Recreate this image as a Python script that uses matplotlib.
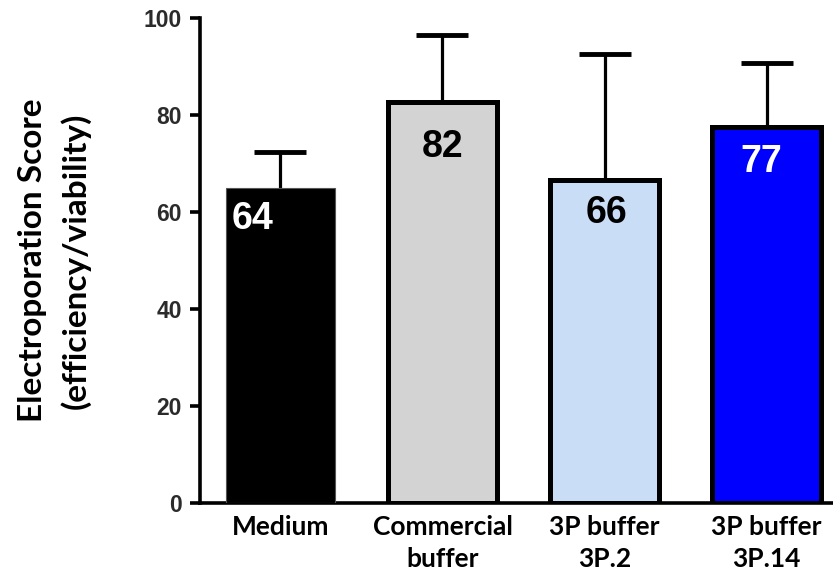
import matplotlib
matplotlib.use("Agg")
import matplotlib.pyplot as plt

categories = ["Medium", "Commercial\nbuffer", "3P buffer\n3P.2", "3P buffer\n3P.14"]
means = [64.9, 82.7, 66.6, 77.5]
errors = [7.5, 13.7, 26.0, 13.1]
value_labels = ["64", "82", "66", "77"]

fill_colors = ["#000000", "#d3d3d3", "#c9ddf6", "#0000ff"]
edge_colors = ["#555555", "#000000", "#000000", "#000000"]
edge_widths = [0.8, 3.6, 3.6, 3.6]
label_colors = ["white", "black", "black", "white"]
label_dx = [-0.17, 0.0, 0.01, -0.03]
label_dy = [6.3, 9.3, 6.8, 7.2]

narrow = ["Liberation Sans Narrow", "Arial Narrow", "Liberation Sans", "DejaVu Sans"]

fig = plt.figure(figsize=(8.33, 5.76), dpi=100)
ax = fig.add_axes([0.240, 0.127, 0.760, 0.842])

x = list(range(len(categories)))
for i in x:
    ax.bar(i, means[i], width=0.67, color=fill_colors[i], edgecolor=edge_colors[i],
           linewidth=edge_widths[i], zorder=3)
eb = ax.errorbar(x, means, yerr=[[0] * len(errors), errors], fmt="none", ecolor="black",
                 elinewidth=2.3, capsize=19, capthick=3.5, zorder=2)
for cl in eb[1]:
    yd = list(cl.get_ydata())
    if all(abs(a - b) < 1e-9 for a, b in zip(yd, means)):
        cl.set_visible(False)

for i in x:
    ax.text(i + label_dx[i], means[i] - label_dy[i], value_labels[i], ha="center", va="center",
            color=label_colors[i], fontsize=27, fontweight="bold",
            family=narrow, zorder=4)

ax.set_xlim(-0.497, 3.41)
ax.set_ylim(0, 100)
ax.set_yticks([0, 20, 40, 60, 80, 100])
ax.set_xticks(x)
ax.set_xticklabels(categories, fontsize=19, fontweight="bold", family=["Lato", "DejaVu Sans"],
                   linespacing=1.38)
for lab in ax.get_yticklabels():
    lab.set_family(narrow)
    lab.set_fontweight("bold")
    lab.set_fontsize(16.5)
    lab.set_color("#2b2b2b")

ax.spines["top"].set_visible(False)
ax.spines["right"].set_visible(False)
ax.spines["left"].set_linewidth(2.6)
ax.spines["bottom"].set_linewidth(2.6)
ax.tick_params(axis="y", length=7, width=2.6, pad=6)
ax.tick_params(axis="x", length=0, pad=9)

ax.set_ylabel("Electroporation Score\n(efficiency/viability)", fontsize=24, fontweight="bold",
              family=["Lato", "DejaVu Sans"], linespacing=1.5, labelpad=38)

fig.savefig("out.png", dpi=100)
